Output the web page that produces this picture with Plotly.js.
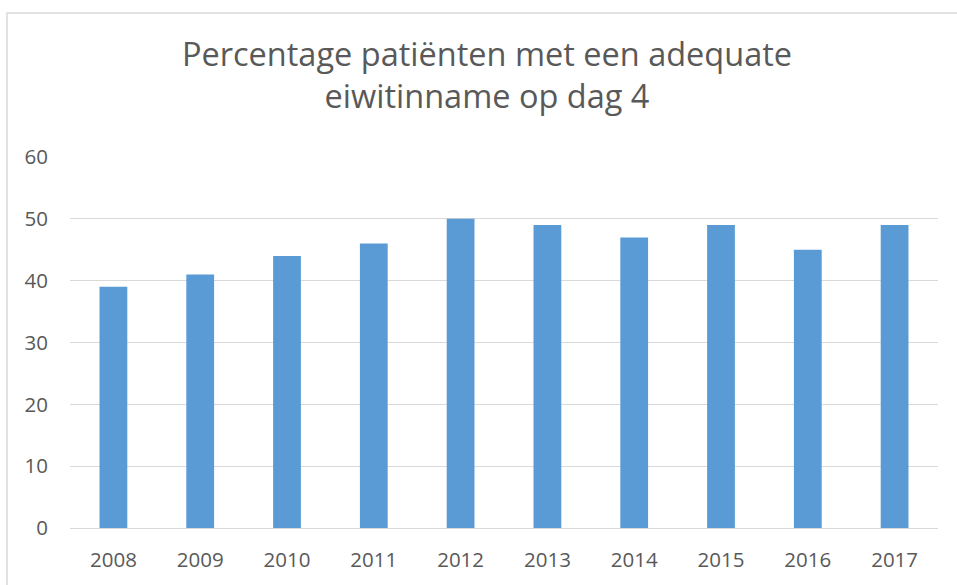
<!DOCTYPE html>
<html>
<head>
<meta charset="utf-8">
<script src="https://cdn.plot.ly/plotly-3.0.1.min.js"></script>
<style>html,body{margin:0;padding:0;background:#fff;}#chart{width:957px;height:585px;}</style>
</head>
<body>
<div id="chart"></div>
<script>
const years = ["2008","2009","2010","2011","2012","2013","2014","2015","2016","2017"];
const percentages = [39, 41, 44, 46, 50, 49, 47, 49, 45, 49];
const yTicks = [0, 10, 20, 30, 40, 50, 60];
const titleText = "Percentage patiënten met een adequate<br>eiwitinname op dag 4";

const trace = {
  type: 'bar',
  x: years,
  y: percentages,
  marker: {color: '#5b9bd5'},
  hoverinfo: 'x+y'
};

const layout = {
  width: 957,
  height: 585,
  margin: {l: 70, r: 19, t: 157, b: 57},
  paper_bgcolor: '#ffffff',
  plot_bgcolor: '#ffffff',
  font: {family: 'Open Sans, sans-serif', color: '#595959', size: 20.5},
  title: {
    text: titleText,
    font: {size: 32.5, color: '#595959', family: 'Open Sans, sans-serif'},
    x: 487/957,
    xanchor: 'center',
    xref: 'container',
    yref: 'container',
    y: 1 - 66/585,
    yanchor: 'top'
  },
  bargap: 0.68,
  showlegend: false,
  xaxis: {
    type: 'category',
    showgrid: false,
    showline: false,
    zeroline: false,
    ticks: '',
    ticklabelstandoff: 17,
    tickfont: {size: 20.5, color: '#595959'}
  },
  yaxis: {
    range: [0, 60],
    tickvals: yTicks,
    showgrid: true,
    gridcolor: '#d9d9d9',
    gridwidth: 1,
    zeroline: true,
    zerolinecolor: '#d9d9d9',
    zerolinewidth: 1,
    showline: false,
    ticks: '',
    ticklabelstandoff: 21,
    tickfont: {size: 20.5, color: '#595959'}
  },
  shapes: [{
    type: 'rect',
    xref: 'paper', yref: 'paper',
    x0: (7 - 70) / 868, x1: (975 - 70) / 868,
    y0: (528 - 600) / 371, y1: (528 - 13) / 371,
    line: {color: '#d9d9d9', width: 1.5},
    fillcolor: 'rgba(0,0,0,0)',
    layer: 'below'
  }]
};

Plotly.newPlot('chart', [trace], layout, {displayModeBar: false, staticPlot: true});
</script>
</body>
</html>
